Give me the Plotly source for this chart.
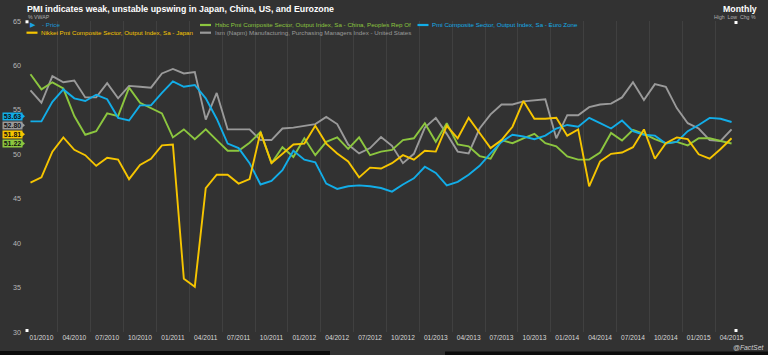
import plotly.graph_objects as go

# ---------------- data ----------------
months = [f"{y}-{m:02d}" for y in range(2010, 2016) for m in range(1, 13)][:65]

quarter_labels = ["01/2010", "04/2010", "07/2010", "10/2010", "01/2011", "04/2011", "07/2011",
                  "10/2011", "01/2012", "04/2012", "07/2012", "10/2012", "01/2013", "04/2013",
                  "07/2013", "10/2013", "01/2014", "04/2014", "07/2014", "10/2014", "01/2015",
                  "04/2015"]

china = [59.0, 57.3, 58.1, 57.4, 54.3, 52.2, 52.6, 54.6, 54.3, 57.5, 55.8, 55.2, 54.6, 51.9,
         52.8, 51.7, 52.8, 51.6, 50.4, 50.4, 51.3, 52.5, 49.0, 50.8, 49.7, 51.8, 49.9, 51.4,
         51.9, 50.6, 51.9, 49.9, 50.3, 50.5, 51.6, 51.8, 53.5, 51.4, 53.5, 51.1, 50.9, 49.8,
         49.5, 51.6, 51.25, 51.8, 52.3, 51.25, 50.9, 49.75, 49.4, 49.4, 50.2, 52.4, 51.55,
         52.75, 52.3, 51.7, 51.25, 51.4, 51.0, 51.8, 51.8, 51.5, 51.22]

eurozone = [53.7, 53.7, 55.9, 57.3, 56.3, 56.0, 56.7, 56.2, 54.1, 53.8, 55.5, 55.5, 56.9, 58.2,
            57.6, 57.8, 56.3, 54.0, 51.2, 50.7, 49.0, 46.6, 47.0, 48.2, 50.4, 49.4, 49.1, 46.7,
            46.1, 46.4, 46.5, 46.4, 46.2, 45.8, 46.6, 47.3, 48.6, 47.9, 46.5, 46.9, 47.7, 48.7,
            50.1, 51.4, 52.2, 52.0, 51.7, 52.1, 52.9, 53.3, 53.1, 54.1, 53.5, 52.9, 53.8, 52.6,
            52.2, 52.1, 51.2, 51.4, 52.6, 53.3, 54.1, 54.0, 53.63]

japan = [46.8, 47.4, 50.3, 51.9, 50.5, 49.9, 48.7, 49.6, 49.4, 47.2, 48.8, 49.5, 51.0, 51.1,
         36.0, 35.1, 46.2, 47.7, 47.7, 46.7, 47.2, 52.5, 49.0, 50.1, 51.1, 51.2, 53.2, 51.2,
         50.1, 49.2, 47.4, 48.5, 48.4, 49.0, 49.9, 49.4, 50.4, 50.3, 53.2, 51.8, 54.1, 52.4,
         50.7, 51.6, 53.1, 56.0, 54.0, 54.0, 54.1, 52.1, 52.8, 46.4, 49.2, 50.05, 50.2, 50.8,
         52.8, 49.5, 51.25, 51.9, 51.7, 50.0, 49.5, 50.6, 51.81]

us_ism = [57.2, 55.8, 58.8, 58.1, 58.3, 56.4, 56.4, 58.0, 56.3, 57.7, 57.6, 57.5, 59.1, 59.6,
          59.1, 59.25, 53.9, 56.9, 52.8, 52.8, 52.8, 51.6, 51.6, 52.9, 53.0, 53.2, 53.4, 54.2,
          53.4, 51.1, 50.1, 50.7, 51.95, 50.95, 49.0, 50.05, 53.0, 54.1, 52.3, 50.3, 50.1, 52.9,
          54.5, 55.6, 55.6, 55.95, 56.06, 56.2, 51.8, 54.4, 54.4, 55.3, 55.6, 55.7, 56.4, 58.1,
          56.1, 57.9, 57.6, 55.2, 53.5, 52.9, 51.6, 51.5, 52.80]

names = {
    "china": "Hsbc Pmi Composite Sector, Output Index, Sa - China, Peoples Rep Of",
    "euro": "Pmi Composite Sector, Output Index, Sa - Euro Zone",
    "japan": "Nikkei Pmi Composite Sector, Output Index, Sa - Japan",
    "us": "Ism (Napm) Manufacturing, Purchasing Managers Index - United States",
}
colors = {"china": "#8cc63f", "euro": "#12ade8", "japan": "#f6c500", "us": "#9a9a9a"}
values = {"china": china, "euro": eurozone, "japan": japan, "us": us_ism}

# ---------------- geometry ----------------
W, H = 768, 355
L, R, T, B = 25, 20, 21, 23
PW, PH = W - L - R, H - T - B
Y0, Y1 = 30, 65


def px(x):
    return (x - L) / PW


def py(y):
    return (H - B - y) / PH


def val_to_py(v):
    return T + (Y1 - v) / (Y1 - Y0) * PH


xs = list(range(len(months)))
quarter_idx = [months.index(f"{q[3:]}-{q[:2]}") for q in quarter_labels]
tick_pos = [i + 1 for i in quarter_idx]
grid_pos = [i - 0.5 for i in quarter_idx] + [len(months) + 0.5]

fig = go.Figure()
for key in ["us", "china", "euro", "japan"]:
    fig.add_trace(go.Scatter(x=xs, y=values[key], mode="lines", name=names[key],
                             line=dict(color=colors[key], width=1.9),
                             hoverinfo="skip", showlegend=False))

FONT = "Liberation Sans, Arial, sans-serif"
ann = []
shapes = []


def note(text, x, y, xanchor="left", size=7, color="#cccccc", **kw):
    d = dict(text=text, xref="paper", yref="paper", x=px(x), y=py(y), xanchor=xanchor,
             yanchor="middle", showarrow=False, font=dict(size=size, color=color, family=FONT))
    d.setdefault("borderpad", 0)
    d.update(kw)
    ann.append(d)


# title and headers
note("<b>PMI indicates weak, unstable upswing in Japan, China, US, and Eurozone</b>", 26, 8.5,
     size=8.8, color="#ffffff")
note("<b>Monthly</b>", 758, 8.5, xanchor="right", size=8.8, color="#ffffff")
note("% VWAP", 27, 16.5, size=5.2, color="#b0b0b0")
note("High  Low  Chg %", 757, 17, xanchor="right", size=5.2, color="#b0b0b0")
note("<i>@FactSet</i>", 765, 347, xanchor="right", size=6.8, color="#d0d0d0")

# legend (manual)
note("▶", 29, 25, size=6.5, color="#1aa0e0")
note("- Price", 40.5, 25, size=6.2, color="#1a9ad8")
legend_items = [("china", 200, 25), ("euro", 417.5, 25), ("japan", 26.5, 32.7), ("us", 200, 32.7)]
for key, lx, ly in legend_items:
    shapes.append(dict(type="line", xref="paper", yref="paper", x0=px(lx), x1=px(lx + 11),
                       y0=py(ly), y1=py(ly), line=dict(color=colors[key], width=2.2)))
    note(names[key], lx + 13.5, ly, size=6.2, color=colors[key])

# last value boxes, de-overlapped from the lowest upward
last = sorted([(values[k][-1], k) for k in values], key=lambda t: t[0])
prev = None
for v, k in last:
    yp = val_to_py(v)
    if prev is not None:
        yp = min(yp, prev - 9.1)
    prev = yp
    note(f"<b>{v:.2f}</b>", 2, yp, size=7, color="#111111",
         width=19, height=7, bgcolor=colors[k], align="center")
    shapes.append(dict(type="path", xref="paper", yref="paper",
                       path=f"M {px(21)} {py(yp - 3.5)} L {px(25)} {py(yp)} L {px(21)} {py(yp + 3.5)} Z",
                       fillcolor=colors[k], line=dict(width=0)))

# high / low markers
for sx, sy in [(27, 21.8), (27, 330.5), (736, 22.5), (736, 330.5)]:
    shapes.append(dict(type="rect", xref="paper", yref="paper", x0=px(sx - 1.5), x1=px(sx + 1.5),
                       y0=py(sy - 1.5), y1=py(sy + 1.5), fillcolor="#ffffff", line=dict(width=0)))

# bottom dark strip
shapes.append(dict(type="rect", xref="paper", yref="paper", x0=px(0), x1=px(330),
                   y0=py(355), y1=py(351), fillcolor="#0c0c0c", line=dict(width=0), layer="below"))
shapes.append(dict(type="rect", xref="paper", yref="paper", x0=px(445), x1=px(768),
                   y0=py(355), y1=py(351.5), fillcolor="#0c0c0c", line=dict(width=0), layer="below"))

fig.update_layout(
    width=W, height=H,
    margin=dict(l=L, r=R, t=T, b=B, pad=0),
    paper_bgcolor="#323232", plot_bgcolor="#323232",
    font=dict(family=FONT, color="#cccccc"),
    annotations=ann, shapes=shapes,
    xaxis=dict(range=[-0.5, len(months) + 0.5], tickmode="array", tickvals=tick_pos,
               ticktext=quarter_labels, showgrid=False, zeroline=False, showline=False,
               ticks="", automargin=False, tickfont=dict(size=6.6, color="#d8d8d8", family=FONT),
               minor=dict(tickmode="array", tickvals=grid_pos, showgrid=True,
                          gridcolor="#404040", gridwidth=1, ticks="")),
    yaxis=dict(range=[Y0, Y1], tickmode="linear", tick0=30, dtick=5, showgrid=False,
               zeroline=False, showline=False, ticks="", ticklabelstandoff=3, automargin=False,
               tickfont=dict(size=7.2, color="#b8b8b8", family=FONT)),
)

fig.write_html("out.html", config={"displayModeBar": False},
               post_script="document.body.style.margin='0';document.body.style.background='#323232';")
